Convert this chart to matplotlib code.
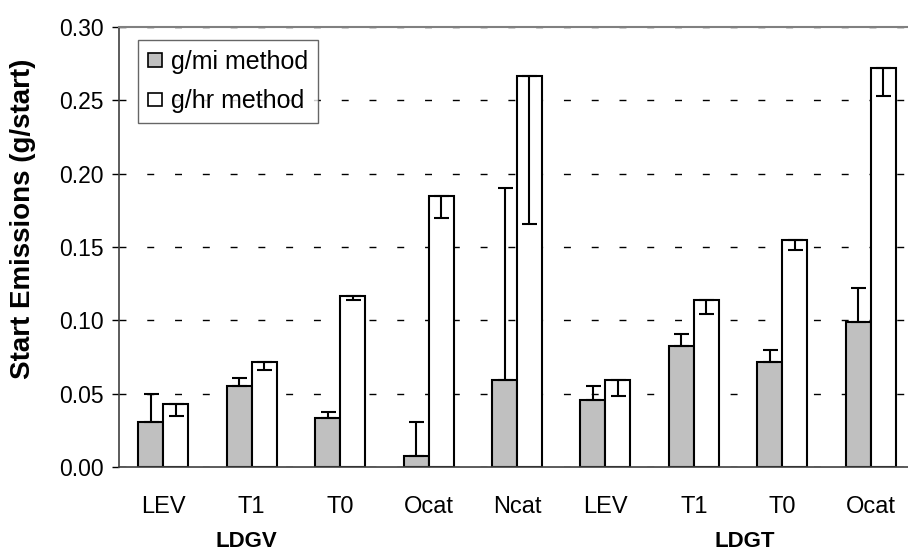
import numpy as np
import matplotlib
matplotlib.use("Agg")
import matplotlib.pyplot as plt
from matplotlib.patches import Patch

plt.rcParams['font.family'] = ['Liberation Sans', 'DejaVu Sans']

# categories and groups
categories = ['LEV', 'T1', 'T0', 'Ocat', 'Ncat', 'LEV', 'T1', 'T0', 'Ocat']
groups = ['LDGV', 'LDGT']

# g/mi method (bar value and top of error bar)
gmi = [0.0305, 0.0552, 0.0334, 0.0077, 0.0593, 0.0457, 0.0825, 0.0714, 0.0986]
gmi_upper = [0.0496, 0.0607, 0.0375, 0.0305, 0.1905, 0.0552, 0.0905, 0.0795, 0.1218]

# g/hr method (bar value and bottom of error bar)
ghr = [0.0430, 0.0716, 0.1168, 0.1848, 0.2668, 0.0593, 0.1139, 0.1548, 0.2720]
ghr_lower = [0.0346, 0.0659, 0.1136, 0.1695, 0.1657, 0.0484, 0.1041, 0.1477, 0.2529]

gmi = np.array(gmi)
ghr = np.array(ghr)
gmi_err = np.array(gmi_upper) - gmi
ghr_err = ghr - np.array(ghr_lower)
zeros = np.zeros(len(categories))

fig = plt.figure(figsize=(9.08, 5.53), dpi=100)
ax = fig.add_axes([119 / 908, 86 / 553, 796 / 908, 440 / 553])

x = np.arange(len(categories))
w = 0.2825

ax.bar(x - w / 2, gmi, width=w, color='#c0c0c0', edgecolor='black', linewidth=1.5, zorder=2)
ax.bar(x + w / 2, ghr, width=w, color='white', edgecolor='black', linewidth=1.5, zorder=2)

ax.errorbar(x - w / 2, gmi, yerr=[zeros, gmi_err], fmt='none', ecolor='black',
            elinewidth=1.5, capsize=5.4, capthick=1.5, zorder=3)
ax.errorbar(x + w / 2, ghr, yerr=[ghr_err, zeros], fmt='none', ecolor='black',
            elinewidth=1.5, capsize=5.4, capthick=1.5, zorder=3)

ax.set_xlim(-0.5, len(categories) - 0.5)
ax.set_ylim(0, 0.30)
yticks = np.arange(0, 0.301, 0.05)
ax.set_yticks(yticks)
ax.set_yticklabels([f'{v:.2f}' for v in yticks], fontsize=16.5)
ax.set_xticks(x)
ax.set_xticklabels(categories, fontsize=17)
ax.tick_params(axis='x', length=0, pad=21)
ax.tick_params(axis='y', length=5, width=1, direction='out', pad=6)

ax.yaxis.grid(True, linestyle=(0, (5, 15)), color='black', linewidth=1)
ax.set_axisbelow(True)

ax.spines['top'].set_color('#808080')
ax.spines['top'].set_linewidth(1.5)
ax.spines['left'].set_color('#404040')
ax.spines['left'].set_linewidth(1.2)
ax.spines['bottom'].set_color('#404040')
ax.spines['bottom'].set_linewidth(1.2)
ax.spines['right'].set_visible(False)

fig.text(23 / 908, (553 - 219) / 553, 'Start Emissions (g/start)', rotation=90,
         ha='center', va='center', fontsize=20, fontweight='bold')

# group labels under the category labels
group_pos = [0.94, 6.58]
for gx, name in zip(group_pos, groups):
    ax.text(gx, -0.17, name, transform=ax.get_xaxis_transform(), ha='center', va='center',
            fontsize=16, fontweight='bold')

handles = [Patch(facecolor='#c0c0c0', edgecolor='black', linewidth=1.2, label='g/mi method'),
           Patch(facecolor='white', edgecolor='black', linewidth=1.2, label='g/hr method')]
leg = ax.legend(handles=handles, loc='upper left', bbox_to_anchor=(0.024, 0.9705), fontsize=18,
                frameon=True, fancybox=False, handlelength=0.55, handleheight=0.45,
                handletextpad=0.35, borderpad=0.4, labelspacing=0.62, borderaxespad=0)
leg.get_frame().set_edgecolor('#404040')
leg.get_frame().set_linewidth(1)

fig.savefig('out.png', dpi=100)
